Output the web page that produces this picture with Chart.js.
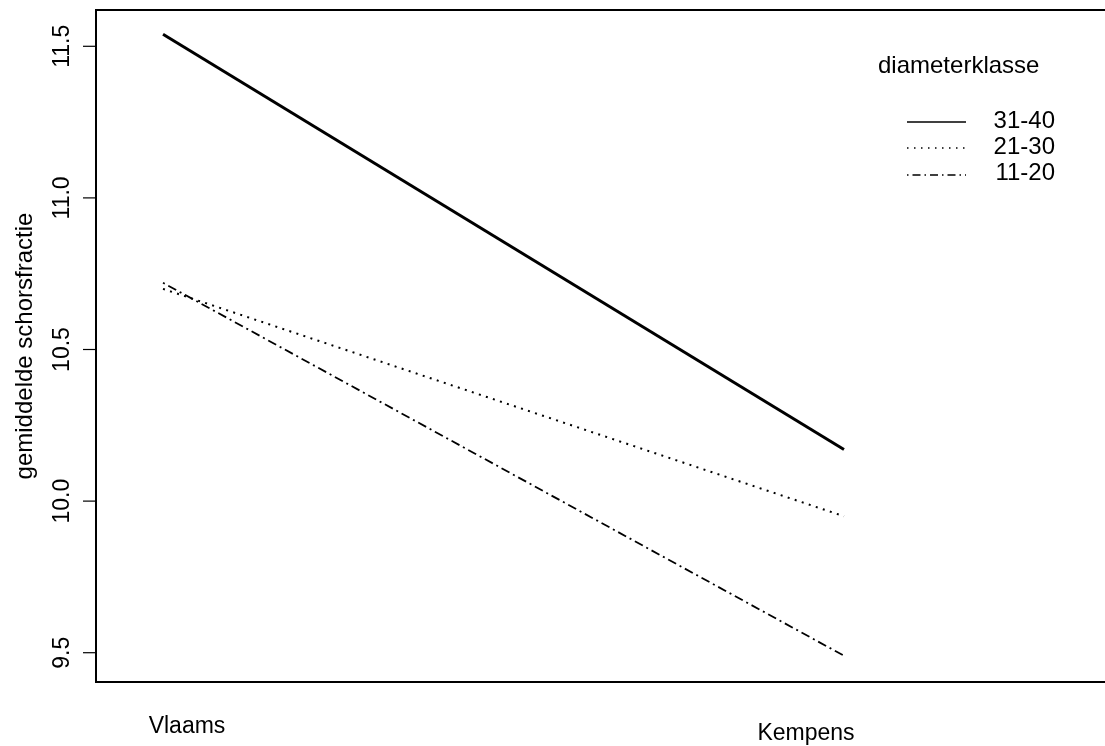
<!DOCTYPE html>
<html>
<head>
<meta charset="utf-8">
<script src="https://cdn.jsdelivr.net/npm/chart.js@4/dist/chart.umd.min.js"></script>
<style>
  html, body { margin: 0; padding: 0; background: #fff; }
  #wrap { width: 1105px; height: 746px; }
</style>
</head>
<body>
<div id="wrap"><canvas id="chart" width="1105" height="746"></canvas></div>
<script>
// gemiddelde schorsfractie per herkomst en diameterklasse
var herkomst = ['Vlaams', 'Kempens'];
var klassen = ['31-40', '21-30', '11-20'];
var waarden_31_40 = [11.54, 10.17];
var waarden_21_30 = [10.70, 9.95];
var waarden_11_20 = [10.72, 9.49];
var yTicks = [9.5, 10.0, 10.5, 11.0, 11.5];

var FONT = '"Liberation Sans", Arial, sans-serif';
var FS = 23;
var FS_TITEL = 24;

// lijnstijlen zoals lty 1, 3 en 4
var stijlen = [
    { width: 3, dash: [] },
    { width: 2, dash: [2, 5.4] },
    { width: 1.8, dash: [2, 4, 9, 4] }
];

function punten(vals) {
    var pts = [];
    for (let i = 0; i < vals.length; i++) {
        pts.push({ x: i + 1, y: vals[i] });
    }
    return pts;
}

var reeksen = [waarden_31_40, waarden_21_30, waarden_11_20];
var datasets = [];
for (let k = 0; k < klassen.length; k++) {
    datasets.push({
        label: klassen[k],
        data: punten(reeksen[k]),
        borderColor: '#000',
        borderWidth: stijlen[k].width,
        borderDash: stijlen[k].dash,
        pointRadius: 0,
        fill: false,
        tension: 0
    });
}

// assen, kader en legende zelf tekenen
var kaderPlugin = {
    id: 'kader',
    afterDraw: function (chart) {
        var ctx = chart.ctx;
        var area = chart.chartArea;
        var xs = chart.scales.x;
        var ys = chart.scales.y;
        ctx.save();

        // kader (links, boven, onder)
        ctx.strokeStyle = '#000';
        ctx.lineWidth = 2;
        ctx.setLineDash([]);
        ctx.beginPath();
        ctx.moveTo(area.right + 2, area.top);
        ctx.lineTo(area.left, area.top);
        ctx.lineTo(area.left, area.bottom);
        ctx.lineTo(area.right + 2, area.bottom);
        ctx.stroke();

        // y-as ticks en labels
        ctx.lineWidth = 1.2;
        ctx.fillStyle = '#000';
        ctx.font = FS + 'px ' + FONT;
        ctx.textAlign = 'center';
        ctx.textBaseline = 'middle';
        for (let t = 0; t < yTicks.length; t++) {
            var py = ys.getPixelForValue(yTicks[t]);
            ctx.beginPath();
            ctx.moveTo(area.left, py);
            ctx.lineTo(area.left - 13, py);
            ctx.stroke();
            ctx.save();
            ctx.translate(63, py);
            ctx.rotate(-Math.PI / 2);
            ctx.fillText(yTicks[t].toFixed(1), 0, 0);
            ctx.restore();
        }

        // categorieen onder de x-as
        var xOffset = [24, -38];
        var yPos = [727, 734];
        for (let i = 0; i < herkomst.length; i++) {
            var px = xs.getPixelForValue(i + 1) + xOffset[i];
            ctx.fillText(herkomst[i], px, yPos[i]);
        }

        // y-as titel
        ctx.font = FS_TITEL + 'px ' + FONT;
        ctx.save();
        ctx.translate(25, (area.top + area.bottom) / 2);
        ctx.rotate(-Math.PI / 2);
        ctx.fillText('gemiddelde schorsfractie', 0, 0);
        ctx.restore();

        // legende
        ctx.textAlign = 'left';
        ctx.textBaseline = 'alphabetic';
        ctx.fillText('diameterklasse', 878, 73);
        var legY = [122, 148, 175];
        var tekstY = [121, 147.5, 173];
        for (let k = 0; k < klassen.length; k++) {
            ctx.lineWidth = 1.3;
            ctx.setLineDash(k === 0 ? [] : (k === 1 ? [1.5, 5.5] : [1.5, 4, 8, 4]));
            ctx.beginPath();
            ctx.moveTo(907, legY[k]);
            ctx.lineTo(966, legY[k]);
            ctx.stroke();
            ctx.setLineDash([]);
            ctx.textAlign = 'right';
            ctx.textBaseline = 'middle';
            ctx.fillText(klassen[k], 1055, tekstY[k]);
        }
        ctx.restore();
    }
};

var ctx = document.getElementById('chart').getContext('2d');
var chart = new Chart(ctx, {
    type: 'line',
    data: { datasets: datasets },
    options: {
        responsive: false,
        animation: false,
        maintainAspectRatio: false,
        layout: { padding: { left: 96, top: 10, right: 0, bottom: 64 } },
        plugins: {
            legend: { display: false },
            tooltip: { enabled: false }
        },
        scales: {
            x: { type: 'linear', display: false, min: 0.9016, max: 2.3833 },
            y: { type: 'linear', display: false, min: 9.4034, max: 11.6197 }
        }
    },
    plugins: [kaderPlugin]
});
</script>
</body>
</html>
